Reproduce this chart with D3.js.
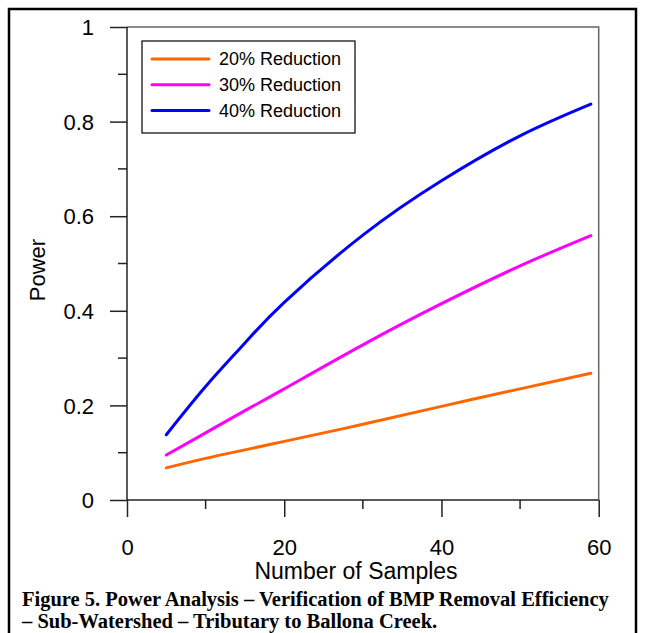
<!DOCTYPE html>
<html lang="en">
<head>
  <meta charset="UTF-8">
  <title>Power Analysis</title>
  <script src="https://d3js.org/d3.v7.min.js"></script>
  <style>
    body { margin: 0; background: white; }
    .tick-label { font-family: "Liberation Sans", Arial, sans-serif; font-size: 22px; fill: black; }
    .axis-title { font-family: "Liberation Sans", Arial, sans-serif; font-size: 23px; fill: black; }
    .legend-text { font-family: "Liberation Sans", Arial, sans-serif; font-size: 18px; fill: black; }
    .caption { font-family: "Liberation Serif", "Times New Roman", serif; font-weight: bold; font-size: 20.5px; fill: black; }
    .series { fill: none; stroke-width: 3px; stroke-linecap: round; }
  </style>
</head>
<body>
<svg id="svg"></svg>
<script>
// data
const samples = [5, 10, 15, 20, 30, 40, 50, 59];
const red20 = [0.068, 0.088, 0.106, 0.124, 0.160, 0.198, 0.235, 0.268];
const red30 = [0.095, 0.142, 0.189, 0.235, 0.328, 0.415, 0.495, 0.559];
const red40 = [0.138, 0.240, 0.332, 0.418, 0.560, 0.675, 0.770, 0.837];
const seriesNames = ["20% Reduction", "30% Reduction", "40% Reduction"];
const seriesColours = ["#ff6600", "#ff00ff", "#0000ff"];
const xTicks = [0, 20, 40, 60];
const xMinor = [10, 30, 50];
const yTicks = [0, 0.2, 0.4, 0.6, 0.8, 1];
const yMinor = [0.1, 0.3, 0.5, 0.7, 0.9];

const width = 649, height = 633;
const svg = d3.select("#svg").attr("width", width).attr("height", height);

// outer frame of the figure
svg.append("rect")
  .attr("x", 9).attr("y", 9)
  .attr("width", 627).attr("height", 700)
  .attr("fill", "none").attr("stroke", "black").attr("stroke-width", 2.5);

var x = d3.scaleLinear().domain([0, 60]).range([127, 598.7]);
var y = d3.scaleLinear().domain([0, 1]).range([500, 27]);

// top and right frame (grey)
svg.append("path")
  .attr("d", `M${x(0)},${y(1)}H${x(60)}V${y(0)}`)
  .attr("fill", "none").attr("stroke", "#666").attr("stroke-width", 1.5);

// x axis
const xAxis = svg.append("g").attr("transform", `translate(0,${y(0)})`)
  .call(d3.axisBottom(x).tickValues(xTicks).tickSize(17).tickFormat(d3.format("d")));
xAxis.select(".domain").remove();
xAxis.append("line").attr("x1", x(0)).attr("x2", x(60)).attr("stroke", "#222").attr("stroke-width", 1.5);
xAxis.selectAll(".tick line").attr("stroke", "#222").attr("stroke-width", 1.5);
xAxis.selectAll(".tick text").attr("class", "tick-label").attr("y", 55).attr("dy", null).attr("font-size", null).attr("font-family", null);
xAxis.selectAll(".minor").data(xMinor).join("line")
  .attr("x1", d => x(d)).attr("x2", d => x(d)).attr("y1", 0).attr("y2", 9)
  .attr("stroke", "#222").attr("stroke-width", 1.5);

// y axis
const yAxis = svg.append("g").attr("transform", `translate(${x(0)},0)`)
  .call(d3.axisLeft(y).tickValues(yTicks).tickSize(17).tickFormat(d => d === 0 || d === 1 ? d : d3.format(".1f")(d)));
yAxis.select(".domain").remove();
yAxis.append("line").attr("y1", y(0)).attr("y2", y(1)).attr("stroke", "#222").attr("stroke-width", 1.5);
yAxis.selectAll(".tick line").attr("stroke", "#222").attr("stroke-width", 1.5);
yAxis.selectAll(".tick text").attr("class", "tick-label").attr("x", -33).attr("dy", "0.35em").attr("font-size", null).attr("font-family", null);
yAxis.selectAll(".minor").data(yMinor).join("line")
  .attr("y1", d => y(d)).attr("y2", d => y(d)).attr("x1", 0).attr("x2", -9)
  .attr("stroke", "#222").attr("stroke-width", 1.5);

// axis titles
svg.append("text").attr("class", "axis-title")
  .attr("x", 356).attr("y", 579).attr("text-anchor", "middle")
  .text("Number of Samples");
svg.append("text").attr("class", "tick-label")
  .attr("transform", "translate(45,270) rotate(-90)").attr("text-anchor", "middle")
  .text("Power");

// lines
const line = d3.line().x((d, i) => x(samples[i])).y(d => y(d)).curve(d3.curveNatural);
const allSeries = [red20, red30, red40];
svg.selectAll(".series").data(allSeries).join("path")
  .attr("class", "series")
  .attr("stroke", (d, i) => seriesColours[i])
  .attr("d", line);

// legend
const legend = svg.append("g");
legend.append("rect").attr("x", 142).attr("y", 41).attr("width", 213).attr("height", 92)
  .attr("fill", "white").attr("stroke", "black").attr("stroke-width", 1.2);
const item = legend.selectAll(".item").data(seriesNames).join("g")
  .attr("transform", (d, i) => `translate(0,${59 + i * 25.8})`);
item.append("line").attr("x1", 152).attr("x2", 209)
  .attr("stroke", (d, i) => seriesColours[i]).attr("stroke-width", 3).attr("stroke-linecap", "round");
item.append("text").attr("class", "legend-text").attr("x", 219).attr("dy", "0.35em").text(d => d);

// caption
svg.append("text").attr("class", "caption").attr("x", 22).attr("y", 606)
  .text("Figure 5. Power Analysis \u2013 Verification of BMP Removal Efficiency");
svg.append("text").attr("class", "caption").attr("x", 22).attr("y", 628)
  .text("\u2013 Sub-Watershed \u2013 Tributary to Ballona Creek.");
</script>
</body>
</html>
